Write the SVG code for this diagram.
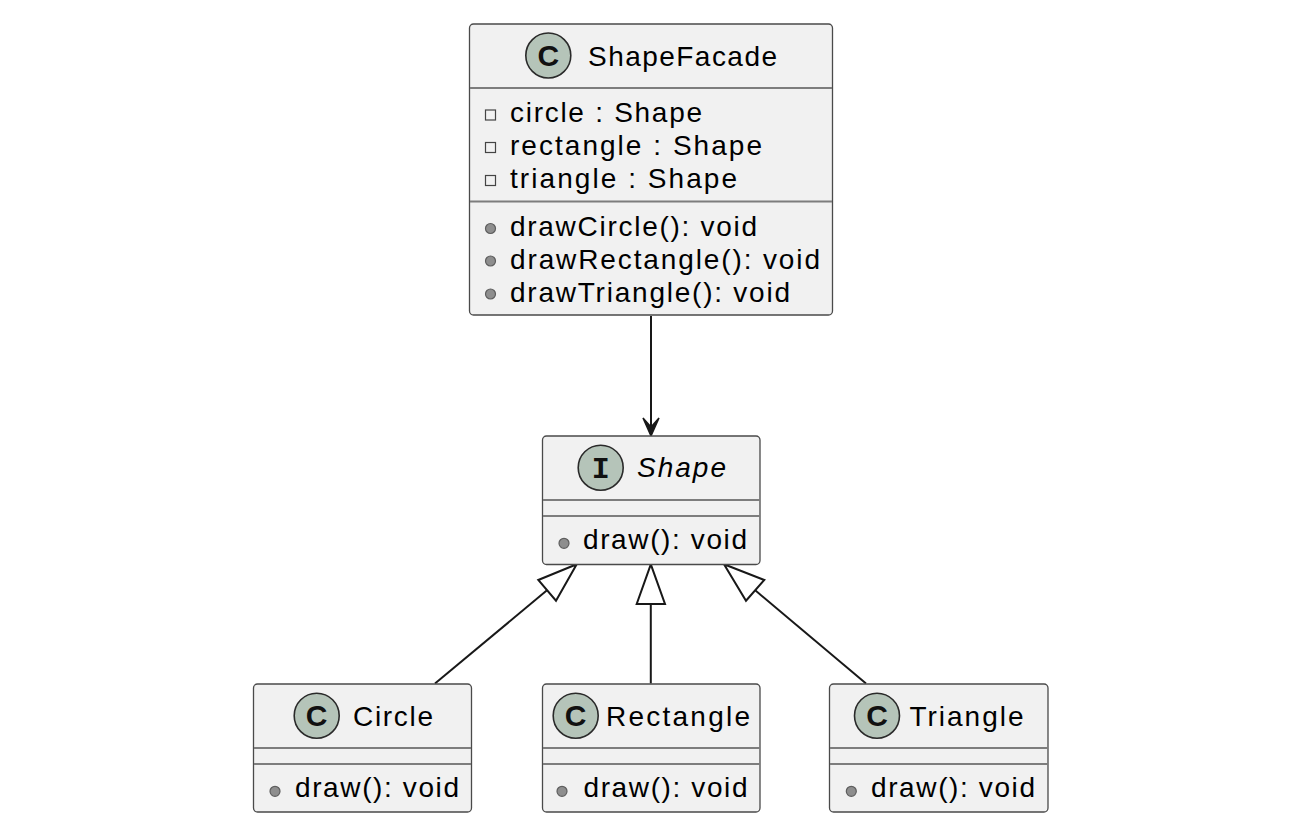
<svg xmlns="http://www.w3.org/2000/svg" width="1298" height="832" viewBox="0 0 1298 832">
<defs>
<style>
.box{fill:#F1F1F1;stroke:#4a4a4a;stroke-width:1.3}
.sep{stroke:#7d7d7d;stroke-width:1.8}
.spot{fill:#B5C4B9;stroke:#2a2a2a;stroke-width:1.6}
.spotc{font-family:"Liberation Sans",Arial,sans-serif;font-size:30px;font-weight:bold;fill:#111;text-anchor:middle}
.spoti{font-family:"Liberation Mono","Courier New",monospace;font-size:30px;font-weight:bold;fill:#111;text-anchor:middle}
.t{font-family:"Liberation Sans",Arial,sans-serif;font-size:28px;fill:#000}
.ti{font-family:"Liberation Sans",Arial,sans-serif;font-size:28px;font-style:italic;fill:#000}
.priv{fill:none;stroke:#444;stroke-width:1.2}
.pub{fill:#8E8E8E;stroke:#5e5e5e;stroke-width:1.2}
.edge{stroke:#181818;stroke-width:2;fill:none}
.open{fill:#fff;stroke:#181818;stroke-width:2}
</style>
</defs>
<rect width="1298" height="832" fill="#fff"/>

<g id="connectors">
<line class="edge" x1="651" y1="316" x2="651" y2="430"/>
<polygon points="651,436 643,418 651,427 659,418" fill="#181818" stroke="#181818" stroke-width="1.5" stroke-linejoin="miter"/>
<line class="edge" x1="435" y1="683.5" x2="547" y2="590.3"/>
<polygon class="open" points="576.7,564.3 538.3,580 556,600.7"/>
<line class="edge" x1="650.8" y1="683.5" x2="650.8" y2="604"/>
<polygon class="open" points="650.8,564.3 636.7,604 665,604"/>
<line class="edge" x1="866" y1="683.5" x2="755.2" y2="590.3"/>
<polygon class="open" points="724,564.3 764.3,580 746,600.7"/>
</g>

<g id="ShapeFacade">
<rect class="box" x="469.5" y="24" width="363" height="291" rx="4"/>
<line class="sep" x1="470" y1="88" x2="832" y2="88"/>
<line class="sep" x1="470" y1="201.5" x2="832" y2="201.5"/>
<circle class="spot" cx="548.3" cy="55.5" r="22.5"/>
<text class="spotc" x="548.3" y="66">C</text>
<text class="t" x="588" y="66" textLength="189" lengthAdjust="spacing">ShapeFacade</text>
<rect class="priv" x="485.5" y="110" width="10" height="10"/>
<rect class="priv" x="485.5" y="142.5" width="10" height="10"/>
<rect class="priv" x="485.5" y="175.5" width="10" height="10"/>
<text class="t" x="510" y="122" textLength="192" lengthAdjust="spacing">circle : Shape</text>
<text class="t" x="510" y="154.5" textLength="252" lengthAdjust="spacing">rectangle : Shape</text>
<text class="t" x="510" y="187.5" textLength="227" lengthAdjust="spacing">triangle : Shape</text>
<circle class="pub" cx="490.5" cy="228.5" r="5"/>
<circle class="pub" cx="490.5" cy="261" r="5"/>
<circle class="pub" cx="490.5" cy="294" r="5"/>
<text class="t" x="510" y="236" textLength="247" lengthAdjust="spacing">drawCircle(): void</text>
<text class="t" x="510" y="268.5" textLength="310" lengthAdjust="spacing">drawRectangle(): void</text>
<text class="t" x="510" y="301.5" textLength="280" lengthAdjust="spacing">drawTriangle(): void</text>
</g>

<g id="Shape">
<rect class="box" x="542.5" y="436" width="217.5" height="128.5" rx="4"/>
<line class="sep" x1="543" y1="500" x2="760" y2="500"/>
<line class="sep" x1="543" y1="516" x2="760" y2="516"/>
<circle class="spot" cx="600.7" cy="467.7" r="22.5"/>
<text class="spoti" x="600.7" y="477.5">I</text>
<text class="ti" x="637" y="477" textLength="89" lengthAdjust="spacing">Shape</text>
<circle class="pub" cx="564" cy="543.3" r="5"/>
<text class="t" x="583" y="549" textLength="164" lengthAdjust="spacing">draw(): void</text>
</g>

<g id="Circle">
<rect class="box" x="253.5" y="684" width="218" height="128" rx="4"/>
<line class="sep" x1="254" y1="748" x2="471" y2="748"/>
<line class="sep" x1="254" y1="764" x2="471" y2="764"/>
<circle class="spot" cx="316.7" cy="715.7" r="22.5"/>
<text class="spotc" x="316.7" y="726.3">C</text>
<text class="t" x="353" y="725.5" textLength="80" lengthAdjust="spacing">Circle</text>
<circle class="pub" cx="275" cy="791.3" r="5"/>
<text class="t" x="295" y="797" textLength="164" lengthAdjust="spacing">draw(): void</text>
</g>

<g id="Rectangle">
<rect class="box" x="542.5" y="684" width="217.5" height="128" rx="4"/>
<line class="sep" x1="543" y1="748" x2="760" y2="748"/>
<line class="sep" x1="543" y1="764" x2="760" y2="764"/>
<circle class="spot" cx="575.7" cy="715.7" r="22.5"/>
<text class="spotc" x="575.7" y="726.3">C</text>
<text class="t" x="606" y="725.5" textLength="144" lengthAdjust="spacing">Rectangle</text>
<circle class="pub" cx="562" cy="791.3" r="5"/>
<text class="t" x="583.5" y="797" textLength="164" lengthAdjust="spacing">draw(): void</text>
</g>

<g id="Triangle">
<rect class="box" x="829.5" y="684" width="218.5" height="128" rx="4"/>
<line class="sep" x1="830" y1="748" x2="1048" y2="748"/>
<line class="sep" x1="830" y1="764" x2="1048" y2="764"/>
<circle class="spot" cx="877" cy="715.7" r="22.5"/>
<text class="spotc" x="877" y="726.3">C</text>
<text class="t" x="909.5" y="725.5" textLength="114" lengthAdjust="spacing">Triangle</text>
<circle class="pub" cx="851.3" cy="791.3" r="5"/>
<text class="t" x="871" y="797" textLength="164" lengthAdjust="spacing">draw(): void</text>
</g>
</svg>
